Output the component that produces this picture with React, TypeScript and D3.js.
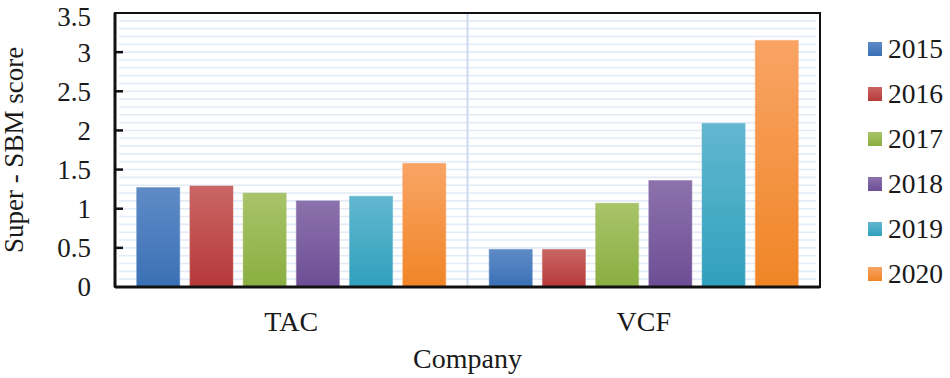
import React from "react";
import * as d3 from "d3";

const companies = ["TAC", "VCF"];
const years = ["2015", "2016", "2017", "2018", "2019", "2020"];
const tacScores = [1.27, 1.29, 1.2, 1.1, 1.16, 1.58];
const vcfScores = [0.48, 0.48, 1.07, 1.36, 2.09, 3.15];
const yTicks = [0, 0.5, 1, 1.5, 2, 2.5, 3, 3.5];
const colorsTop = ["#5e8bc6", "#c96664", "#a8c46a", "#8c72ac", "#62b7cf", "#f9a465"];
const colorsBottom = ["#3b70b6", "#b7393a", "#8aae40", "#6d4e95", "#30a0bd", "#f08526"];

const W = 950;
const H = 378;
const margin = { top: 13, right: 130, bottom: 91, left: 115 };
const font = '"Liberation Serif", "DejaVu Serif", "Times New Roman", serif';
const textStyle = { fontFamily: font };

export default function App() {
  const scores: Record<string, number[]> = { TAC: tacScores, VCF: vcfScores };
  const x0 = d3
    .scaleBand()
    .domain(companies)
    .range([margin.left, W - margin.right])
    .paddingInner(0.123)
    .paddingOuter(0.0615);
  const x1 = d3
    .scaleBand()
    .domain(years)
    .range([0, x0.bandwidth()])
    .paddingInner(0.19)
    .paddingOuter(0);
  const y = d3
    .scaleLinear()
    .domain([0, 3.5])
    .range([H - margin.bottom, margin.top]);

  const left = margin.left;
  const right = W - margin.right;
  const top = y(3.5);
  const bottom = y(0);
  const minor = d3.range(1, 35).map(i => i / 10);

  return (
    <svg
      width={W}
      height={H}
      style={{ position: "absolute", left: 0, top: 0, background: "#fff", fontFamily: font }}
    >
      <defs>
        {years.map((yr, i) => (
          <linearGradient key={yr} id={`g${i}`} x1="0" y1="0" x2="0" y2="1">
            <stop offset="0%" stopColor={colorsTop[i]} />
            <stop offset="100%" stopColor={colorsBottom[i]} />
          </linearGradient>
        ))}
      </defs>
      {/* minor gridlines */}
      {minor.map(v => (
        <line
          key={v}
          x1={left + 4}
          x2={right - 4}
          y1={y(v)}
          y2={y(v)}
          stroke="#e2ebf6"
          strokeWidth={1.6}
        />
      ))}
      {/* category divider */}
      <line
        x1={(left + right) / 2}
        x2={(left + right) / 2}
        y1={top}
        y2={bottom}
        stroke="#c9dbef"
        strokeWidth={2}
      />
      {/* bars */}
      {companies.map(c => (
        <g key={c} transform={`translate(${x0(c)},0)`}>
          {years.map((yr, i) => (
            <rect
              key={yr}
              x={x1(yr)}
              y={y(scores[c][i])}
              width={x1.bandwidth()}
              height={bottom - y(scores[c][i])}
              fill={`url(#g${i})`}
              stroke={colorsTop[i]}
              strokeOpacity={0.5}
              strokeWidth={1}
            />
          ))}
        </g>
      ))}
      {/* frame */}
      <rect
        x={left}
        y={top}
        width={right - left}
        height={bottom - top}
        fill="none"
        stroke="#111"
        strokeWidth={2}
      />
      <line x1={left} x2={right} y1={bottom} y2={bottom} stroke="#111" strokeWidth={3} />
      <line x1={left} x2={left} y1={top} y2={bottom} stroke="#111" strokeWidth={3} />
      {/* y ticks */}
      {yTicks.map(t => (
        <g key={t}>
          {t > 0 && t < 3.5 && (
            <line x1={left} x2={left + 8} y1={y(t)} y2={y(t)} stroke="#111" strokeWidth={2.5} />
          )}
          <text
            x={91}
            y={Math.max(y(t), top + 4)}
            dy="0.35em"
            textAnchor="end"
            fontSize={27}
            fill="#1a1a1a"
            style={textStyle}
          >
            {t}
          </text>
        </g>
      ))}
      {/* x category labels */}
      {companies.map(c => (
        <text
          key={c}
          x={(x0(c) as number) + x0.bandwidth() / 2}
          y={331}
          textAnchor="middle"
          fontSize={28}
          fill="#1a1a1a"
          style={textStyle}
        >
          {c}
        </text>
      ))}
      <text
        x={(left + right) / 2}
        y={368}
        textAnchor="middle"
        fontSize={28}
        fill="#1a1a1a"
        style={textStyle}
      >
        Company
      </text>
      <text
        transform={`translate(23,${(top + bottom) / 2}) rotate(-90)`}
        textAnchor="middle"
        fontSize={27}
        fill="#1a1a1a"
        style={textStyle}
      >
        Super - SBM score
      </text>
      {/* legend */}
      {years.map((yr, i) => {
        const cy = 49 + i * 45;
        return (
          <g key={yr}>
            <rect x={868} y={cy - 7} width={14} height={14} fill={`url(#g${i})`} />
            <text x={888} y={cy + 9} fontSize={27.5} fill="#1a1a1a" style={textStyle}>
              {yr}
            </text>
          </g>
        );
      })}
    </svg>
  );
}
